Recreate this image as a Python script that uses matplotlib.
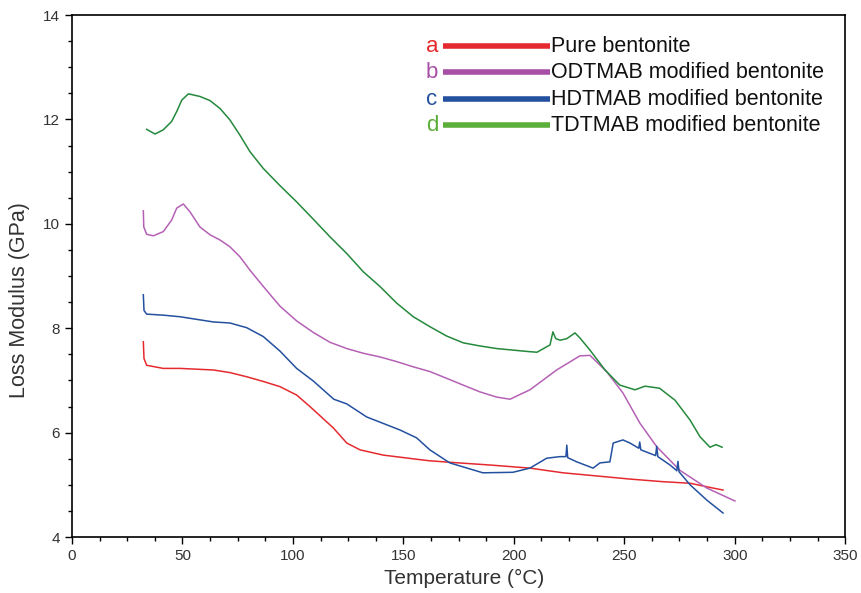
import numpy as np
import matplotlib.pyplot as plt

plt.rcParams['font.family'] = ['Liberation Sans', 'DejaVu Sans']

# Pure bentonite
t_a = [32.3, 32.6, 33.8, 41.3, 48.9, 64, 71.5, 79.1, 86.6, 94.2, 101.7, 107.7, 110.8,
       118.3, 124.4, 130.4, 140.8, 156, 162, 175, 189, 207.3, 222.3, 237.5, 252.6,
       267.5, 279.8, 288.8, 294.7]
m_a = [7.74, 7.42, 7.29, 7.23, 7.23, 7.20, 7.15, 7.07, 6.98, 6.88, 6.72, 6.50, 6.38,
       6.09, 5.80, 5.67, 5.57, 5.49, 5.46, 5.42, 5.38, 5.32, 5.23, 5.17, 5.11,
       5.06, 5.03, 4.95, 4.90]

# ODTMAB modified bentonite
t_b = [32.3, 32.5, 33.8, 36.8, 41.3, 45.1, 47.4, 50.4, 53.4, 57.9, 62.5, 67, 71.5, 76,
       80.6, 86.6, 94.2, 101.7, 109.2, 116.8, 124.4, 131.9, 139.4, 147, 154.5, 162,
       169.6, 177.1, 184.7, 192.3, 198.3, 207.3, 219.4, 229.9, 234.5, 242, 249.4,
       257.1, 264.7, 275.1, 287.3, 300.1]
m_b = [10.25, 9.94, 9.80, 9.77, 9.85, 10.07, 10.30, 10.38, 10.23, 9.94, 9.79, 9.69, 9.56,
       9.37, 9.11, 8.80, 8.42, 8.14, 7.92, 7.73, 7.61, 7.52, 7.45, 7.36, 7.26, 7.17,
       7.04, 6.91, 6.78, 6.68, 6.64, 6.82, 7.20, 7.47, 7.48, 7.17, 6.76,
       6.18, 5.73, 5.28, 4.94, 4.69]

# HDTMAB modified bentonite
t_c = [32.3, 32.6, 33.8, 41.3, 48.9, 56.4, 64, 71.5, 79.1, 86.6, 94.2, 101.7, 109.2,
       118.5, 124.4, 133.4, 148.5, 156, 162, 171, 186, 199.6, 207.3, 214.9, 220.9, 223.6,
       224.0, 224.4, 228.5, 235.9, 239, 243.5, 245, 249.4, 252.6, 256.6, 257.0, 257.5,
       264.2, 264.7, 265.2, 270.7, 273.8, 274.3, 274.8, 279.8, 287.3, 294.7]
m_c = [8.64, 8.34, 8.27, 8.25, 8.22, 8.17, 8.12, 8.10, 8.01, 7.84, 7.56, 7.23, 6.99,
       6.64, 6.55, 6.30, 6.05, 5.90, 5.67, 5.42, 5.23, 5.24, 5.32, 5.51, 5.54, 5.54,
       5.76, 5.52, 5.44, 5.32, 5.42, 5.44, 5.80, 5.86, 5.80, 5.70, 5.82, 5.67,
       5.56, 5.74, 5.54, 5.38, 5.27, 5.45, 5.25, 5.00, 4.71, 4.46]

# TDTMAB modified bentonite
t_d = [33.8, 37.6, 41.3, 45.1, 47.4, 49.7, 52.7, 57.9, 62.5, 67, 71.5, 76, 80.6, 86.6,
       94.2, 101.7, 109.2, 116.8, 124.4, 131.9, 139.4, 147, 154.5, 162, 169.6, 177.1,
       184.7, 192.3, 199.8, 207.3, 210.5, 216.4, 217.7, 219, 221, 224, 227.7, 230,
       234.5, 241.3, 248, 254.9, 259.4, 266, 273, 279.8, 284.3, 288.8, 291.5, 294.3]
m_d = [11.81, 11.72, 11.80, 11.96, 12.15, 12.37, 12.49, 12.44, 12.36, 12.21, 11.99,
       11.70, 11.38, 11.06, 10.73, 10.42, 10.09, 9.75, 9.43, 9.08, 8.80, 8.48, 8.22,
       8.03, 7.85, 7.72, 7.66, 7.61, 7.58, 7.55, 7.54, 7.68, 7.93, 7.80, 7.77, 7.80,
       7.91, 7.81, 7.58, 7.20, 6.91, 6.82, 6.89, 6.85, 6.62, 6.24, 5.92, 5.72, 5.77, 5.72]

letters = ['a', 'b', 'c', 'd']
labels = ['Pure bentonite', 'ODTMAB modified bentonite',
          'HDTMAB modified bentonite', 'TDTMAB modified bentonite']
line_colors = ['#e52a2f', '#b561b5', '#2450a0', '#24893c']
key_colors = ['#e52a2f', '#a84ea6', '#2450a0', '#5cae3a']

fig = plt.figure(figsize=(8.61, 5.93), dpi=100)
ax = fig.add_axes([0.0836, 0.0944, 0.898, 0.8803])

series = [(t_a, m_a), (t_b, m_b), (t_c, m_c), (t_d, m_d)]
for (t, m), c in zip(series, line_colors):
    ax.plot(t, m, color=c, linewidth=1.1)

ax.set_xlim(0, 350)
ax.set_ylim(4, 14)
ax.set_xticks(np.arange(0, 351, 50))
ax.set_yticks(np.arange(4, 15, 2))
ax.set_xticks(np.arange(0, 351, 12.5), minor=True)
ax.set_yticks(np.arange(4, 14.1, 0.5), minor=True)
ax.tick_params(direction='out', which='major', length=5, width=1, labelsize=11,
               labelcolor='#333333')
ax.tick_params(direction='out', which='minor', length=3, width=1)
for s in ax.spines.values():
    s.set_linewidth(1.2)

fig.text(464 / 861, 1 - 578 / 593, 'Temperature (°C)', fontsize=15, color='#333333',
         ha='center', va='center')
fig.text(20 / 861, 1 - 300 / 593, 'Loss Modulus (GPa)', fontsize=15.5, color='#333333',
         ha='center', va='center', rotation=90)

# legend drawn by hand: colored letter, thick line, text
rows_y = [46, 72, 99, 125]
for i in range(4):
    yy = 14 - (rows_y[i] - 15) / 52.2
    x_letter = (432 - 72) / 2.209
    x0 = (443 - 72) / 2.209
    x1 = (550 - 72) / 2.209
    ax.text(x_letter, yy, letters[i], color=key_colors[i], fontsize=16,
            ha='center', va='center')
    ax.plot([x0, x1], [yy, yy], color=key_colors[i], linewidth=4,
            solid_capstyle='butt')
    ax.text(x1 + 0.5, yy, labels[i], color='#111111', fontsize=15.5,
            ha='left', va='center')

fig.savefig('out.png', dpi=100)
